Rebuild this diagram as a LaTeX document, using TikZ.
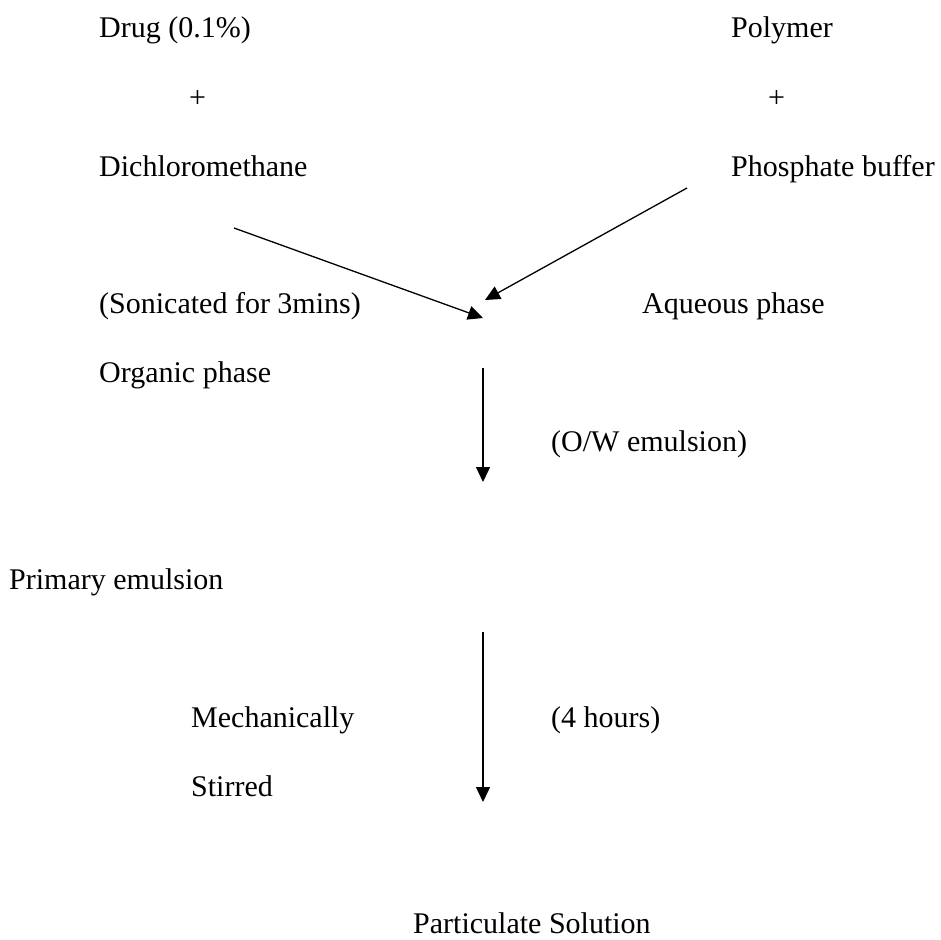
\documentclass[tikz,border=0pt]{standalone}
\usepackage{fontspec}
\setmainfont{Liberation Serif}
\usetikzlibrary{arrows.meta}

\begin{document}
\begin{tikzpicture}[x=1pt,y=-1pt,
    every node/.style={anchor=base west,inner sep=0pt,font=\fontsize{30}{36}\selectfont},
    flow/.style={line width=1.3pt,-{Triangle[length=15pt,width=14pt]}}]

            \useasboundingbox (0,0) rectangle (941,939);

            \node (drug) at (99,38) {Drug (0.1\%)};
            \node (poly) at (731,38) {Polymer};
            \node (plusl) at (189,107) {+};
            \node (plusr) at (768,107) {+};
            \node (dcm) at (99,176) {Dichloromethane};
            \node (buffer) at (731,176) {Phosphate buffer};
            \node (sonic) at (99,313) {(Sonicated for 3mins)};
            \node (aqueous) at (642,313) {Aqueous phase};
            \node (organic) at (99,382) {Organic phase};
            \node (ow) at (551,451) {(O/W emulsion)};
            \node (primary) at (9,589) {Primary emulsion};
            \node (mech) at (191,727) {Mechanically};
            \node (hours) at (551,727) {(4 hours)};
            \node (stirred) at (191,796) {Stirred};
            \node (particle) at (413,933) {Particulate Solution};

            \coordinate (orgstart) at (234,228);
            \coordinate (orgend) at (483,318);
            \coordinate (aqstart) at (687,188);
            \coordinate (aqend) at (485,300);
            \coordinate (emtop) at (483,368);
            \coordinate (embot) at (483,482);
            \coordinate (stirtop) at (483,632);
            \coordinate (stirbot) at (483,802);

            \draw[flow] (orgstart) -- (orgend) ;
            \draw[flow] (aqstart) -- (aqend) ;
            \draw[flow] (emtop) -- (embot) ;
            \draw[flow] (stirtop) -- (stirbot) ;
            \end{tikzpicture}
\end{document}
